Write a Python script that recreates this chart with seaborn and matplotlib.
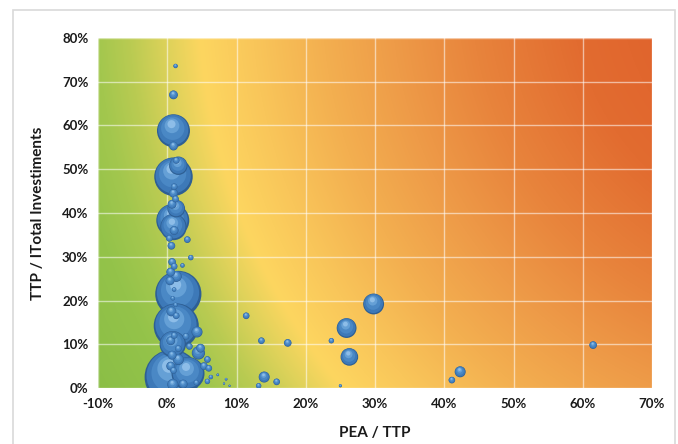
import numpy as np
import pandas as pd
import matplotlib
matplotlib.use("Agg")
import matplotlib.pyplot as plt
from matplotlib.patches import Rectangle
import seaborn as sns

# ---- data (percent units) ----
pea_ttp = [1.2, 0.9, 0.9, 0.9, 1.3, 1.6, 0.9, 1.0, 0.9, 1.2, 0.7, 1.3, 0.8, 0.9, 1.0,
           0.3, 2.9, 0.6, 3.4, 0.7, 1.0, 0.5, 1.3, 0.4, 1.6, 1.0, 0.8, 1.2, 0.6, 1.3,
           1.3, 4.3, 1.0, 0.5, 0.8, 1.6, 3.2, 4.5, 0.7, 1.6, 0.5, 0.9, 0.7, 3.0, 0.8,
           2.3, 4.8, 5.8, 5.3, 6.0, 6.3, 5.8, 4.2, 8.5, 8.2, 7.3, 9.0, 2.7, 2.2,
           11.4, 13.6, 17.4, 23.7, 25.9, 29.8, 26.3, 14.0, 15.8, 13.2, 25.0, 42.3,
           41.1, 61.5]
ttp_inv = [73.6, 67.0, 58.8, 55.3, 52.0, 50.8, 48.3, 46.0, 44.5, 43.2, 42.0, 41.0, 38.3, 36.8, 36.0,
           34.2, 33.9, 32.5, 29.8, 28.8, 27.8, 26.5, 25.5, 24.5, 21.5, 22.5, 20.5, 19.0, 17.5, 16.5,
           14.2, 12.8, 12.0, 10.8, 10.0, 9.0, 9.5, 8.0, 7.5, 6.5, 5.0, 4.0, 2.5, 3.3, 0.8,
           0.9, 9.1, 6.5, 5.0, 4.5, 2.5, 1.5, 1.2, 2.0, 1.0, 3.0, 0.5, 11.8, 28.0,
           16.5, 10.8, 10.3, 10.8, 13.7, 19.2, 7.1, 2.5, 1.4, 0.5, 0.5, 3.7,
           1.8, 9.8]
bubble_size = [4, 16, 225, 16, 9, 70, 306, 9, 16, 9, 16, 64, 225, 144, 16,
               9, 9, 12, 6, 12, 9, 16, 25, 16, 441, 4, 4, 4, 20, 9,
               420, 25, 9, 16, 144, 9, 9, 36, 16, 25, 16, 9, 625, 225, 25,
               16, 16, 9, 12, 9, 4, 6, 6, 1.5, 1, 1.5, 1, 9, 4,
               9, 9, 12, 6, 81, 90, 64, 25, 9, 6, 2, 25,
               9, 12]

x_ticks = [-10, 0, 10, 20, 30, 40, 50, 60, 70]
y_ticks = [0, 10, 20, 30, 40, 50, 60, 70, 80]
x_label = "PEA / TTP"
y_label = "TTP / ITotal Investiments"

W, H = 678, 444
fig = plt.figure(figsize=(W / 100, H / 100), dpi=100)
fig.patch.set_facecolor("white")
fig.patches.append(Rectangle((13 / W, -0.01), (675 - 13) / W, (444 - 10) / H + 0.01,
                             transform=fig.transFigure, fill=False,
                             edgecolor="#D9D9D9", linewidth=1.2))

L, R, T, B = 98, 652, 38, 388
ax = fig.add_axes([L / W, 1 - B / H, (R - L) / W, (B - T) / H])

# ---- background gradient (radial, centre beyond the top-right corner) ----
gx = np.linspace(-10, 70, 560)
gy = np.linspace(0, 80, 350)
GX, GY = np.meshgrid(gx, gy)
PX = L + (GX + 10) / 80 * (R - L)
PY = B - GY / 80 * (B - T)
d = np.sqrt((821 - PX) ** 2 + (-11 - PY) ** 2)
stops = [150, 250, 350, 430, 500, 570, 623, 656, 693, 725, 760, 830]
cols = np.array([(224, 98, 44), (226, 108, 48), (232, 132, 60), (238, 155, 72),
                 (243, 175, 80), (249, 198, 90), (253, 214, 96), (222, 210, 90),
                 (186, 203, 82), (163, 199, 78), (148, 195, 74), (138, 190, 70)]) / 255.0
img = np.dstack([np.interp(d, stops, cols[:, i]) for i in range(3)])
ax.imshow(img, extent=(-10, 70, 0, 80), origin="lower", aspect="auto", zorder=0)

# ---- bubbles with 3D-ish shading (layers interleaved per bubble) ----
df = pd.DataFrame({"x": pea_ttp, "y": ttp_inv, "v": bubble_size})
df = df.sort_values("v", ascending=False).reset_index(drop=True)
layers = [(1.0, 0.0, "#2E5F94"), (0.84, 0.05, "#3D79B8"),
          (0.5, 0.15, "#4A88C5"), (0.2, 0.3, "#65A0D6"), (0.06, 0.4, "#8DBDE8")]
rows = []
px_per_y = (B - T) / 80.0
px_per_x = (R - L) / 80.0
scale = 1.1
for _, r in df.iterrows():
    rad = np.sqrt(r["v"]) * scale
    for k, (f, off, c) in enumerate(layers):
        rows.append({"x": r["x"] - off * rad * 0.3 / px_per_x,
                     "y": r["y"] + off * rad / px_per_y,
                     "s": r["v"] * f, "layer": str(k)})
long = pd.DataFrame(rows)
vmax = df["v"].max()
smax = (2 * np.sqrt(vmax) * scale * 0.72) ** 2
sns.scatterplot(data=long, x="x", y="y", size="s", sizes=(0, smax), size_norm=(0, vmax),
                hue="layer", palette={str(k): l[2] for k, l in enumerate(layers)},
                linewidth=0, legend=False, ax=ax, zorder=3)

ax.set_xlim(-10, 70)
ax.set_ylim(0, 80)
ax.set_xticks(x_ticks)
ax.set_yticks(y_ticks)
ax.set_xticklabels([f"{v}%" for v in x_ticks])
ax.set_yticklabels([f"{v}%" for v in y_ticks])
ax.grid(True, color="white", alpha=0.55, linewidth=1)
ax.set_axisbelow(False)
for gl in ax.get_xgridlines() + ax.get_ygridlines():
    gl.set_zorder(1)
for s in ax.spines.values():
    s.set_visible(False)
ax.tick_params(length=0, pad=7, labelsize=9.5)
for lab in ax.get_xticklabels() + ax.get_yticklabels():
    lab.set_fontfamily("Lato")
    lab.set_fontweight("bold")
    lab.set_color("#1a1a1a")
ax.set_xlabel(x_label, fontfamily="Lato", fontweight="bold", fontsize=11, labelpad=12, color="#1a1a1a")
ax.set_ylabel(y_label, fontfamily="Lato", fontweight="bold", fontsize=11, labelpad=12, color="#1a1a1a")

fig.savefig("out.png", dpi=100)
